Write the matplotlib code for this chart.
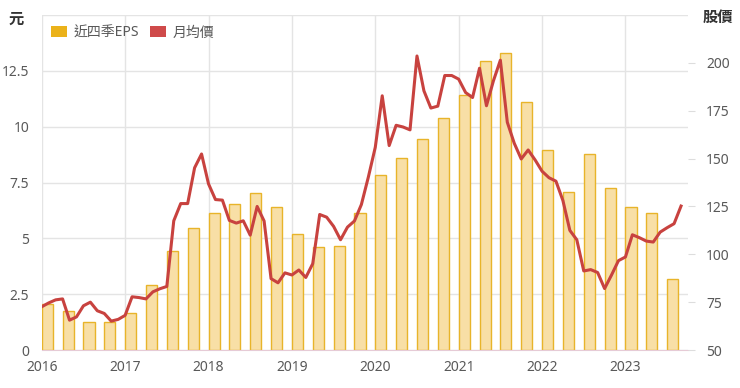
import numpy as np
import matplotlib
matplotlib.use('Agg')
import matplotlib.pyplot as plt
from matplotlib.patches import Patch

plt.rcParams['font.family'] = ['Noto Sans', 'Noto Sans CJK TC', 'DejaVu Sans']

# quarterly EPS (trailing four quarters), 2016Q1 .. 2023Q3
eps = [2.05, 1.75, 1.27, 1.24, 1.67, 2.92, 4.45, 5.48,
       6.15, 6.52, 7.02, 6.41, 5.2, 4.61, 4.64, 6.14,
       7.83, 8.61, 9.46, 10.37, 11.42, 12.96, 13.3, 11.1,
       8.94, 7.09, 8.77, 7.26, 6.41, 6.14, 3.2]

# monthly average price, 2016-01 .. 2023-09
price = [72.6, 74.6, 76.2, 76.7, 65.6, 67.3, 73.1, 75.0, 70.5, 69.1, 65.1, 66.0,
         68.1, 77.8, 77.4, 76.7, 80.4, 82.0, 83.2, 117.5, 126.5, 126.5, 145.2, 152.4,
         136.8, 128.6, 128.3, 117.7, 116.3, 117.5, 110.0, 125.0, 117.4, 87.3, 85.1, 90.3,
         89.2, 91.8, 87.9, 95.1, 120.8, 119.4, 114.6, 107.6, 114.2, 117.4, 126.0, 140.3,
         155.9, 182.8, 156.8, 167.4, 166.5, 165.0, 203.6, 185.4, 176.4, 177.4, 193.4, 193.4,
         191.5, 184.5, 181.9, 197.2, 177.6, 190.6, 201.4, 169.0, 158.0, 149.8, 154.5, 149.3,
         143.4, 140.0, 138.2, 128.1, 112.5, 107.6, 91.3, 92.0, 90.5, 82.1, 89.2, 96.7,
         98.6, 110.2, 108.7, 106.9, 106.4, 111.6, 113.9, 116.0, 125.2]

years = ['2016', '2017', '2018', '2019', '2020', '2021', '2022', '2023']

bar_fill = '#F8DFA6'
bar_edge = '#E8B42A'
line_col = '#C8423F'
txt_col = '#595959'
grid_col = '#E4E4E4'

fig = plt.figure(figsize=(7.4, 3.88), dpi=100)
ax = fig.add_axes([0.0564, 0.0979, 0.8733, 0.8634])

# x in months since Jan 2016
xq = np.arange(len(eps)) * 3
xm = np.arange(len(price))

ax.bar(xq, eps, width=1.6, align='edge', color=bar_fill, edgecolor=bar_edge,
       linewidth=1, zorder=2)
ax.set_xlim(0, 93)
ax.set_ylim(0, 15)
lt = np.arange(0, 15.1, 2.5)
ax.set_yticks(lt)
ax.set_yticklabels(['0', '2.5', '5', '7.5', '10', '12.5', ''])
ax.set_xticks(np.arange(len(years)) * 12)
ax.set_xticklabels(years)
ax.grid(True, color=grid_col, linewidth=1, zorder=0)
ax.set_axisbelow(True)
ax.tick_params(axis='y', length=0, pad=9, labelsize=10, labelcolor=txt_col)
ax.tick_params(axis='x', length=0, pad=7, labelsize=10, labelcolor=txt_col)
for s in ['top', 'left', 'right']:
    ax.spines[s].set_visible(False)
ax.spines['bottom'].set_color('#E6CBD6')

ax2 = ax.twinx()
ax2.plot(xm, price, color=line_col, linewidth=2.2, zorder=3)
ax2.set_ylim(50, 225)
ax2.set_yticks(np.arange(50, 201, 25))
ax2.tick_params(axis='y', length=5, color='#DDDDDD', pad=8, labelsize=10,
                labelcolor=txt_col)
for s in ['top', 'left', 'right', 'bottom']:
    ax2.spines[s].set_visible(False)

fig.text(0.012, 0.948, '元', fontsize=11, color='#333333', fontweight='bold',
         ha='left', va='center')
fig.text(0.950, 0.953, '股價', fontsize=11, color='#333333', fontweight='bold',
         ha='left', va='center')

handles = [Patch(facecolor='#EBB21A', edgecolor='none', label='近四季EPS'),
           Patch(facecolor='#CF4A4A', edgecolor='none', label='月均價')]
ax.legend(handles=handles, loc='center left', bbox_to_anchor=(0.0, 0.946),
          ncol=2, frameon=False, fontsize=10, labelcolor=txt_col,
          handlelength=1.1, handleheight=0.8, handletextpad=0.5,
          columnspacing=0.8, borderaxespad=0.3)

fig.savefig('out.png', dpi=100)
